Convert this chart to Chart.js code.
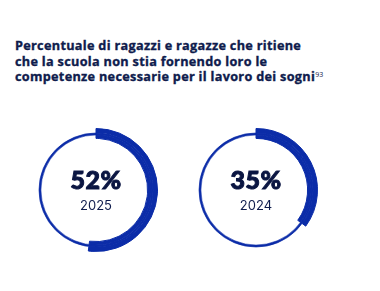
<!DOCTYPE html>
<html>
<head>
<meta charset="utf-8">
<script src="https://cdn.jsdelivr.net/npm/chart.js@4"></script>
<style>
	body { margin: 0; background: #ffffff; width: 380px; height: 291px; overflow: hidden; position: relative; font-family: Inter, sans-serif; color: #0f1c4d; }
	.title { position: absolute; left: 15px; top: 38px; font-family: 'Open Sans', sans-serif; font-size: 12.7px; font-weight: 700; line-height: 15.5px; letter-spacing: 0.3px; -webkit-text-stroke: 0.35px #0f1c4d; }
	.title sup { font-size: 7px; font-weight: 500; vertical-align: 4px; line-height: 0; letter-spacing: 0; -webkit-text-stroke: 0; }
	.ring { position: absolute; width: 124px; height: 124px; }
	.value { position: absolute; width: 124px; text-align: center; font-family: Lato, sans-serif; font-size: 25px; line-height: 24px; font-weight: 900; -webkit-text-stroke: 1px #0b1642; color: #0b1642; letter-spacing: 0.5px; }
	.year { position: absolute; width: 124px; text-align: center; font-size: 13px; line-height: 13px; font-weight: 400; }
</style>
</head>
<body>
	<div class="title">Percentuale di ragazzi e ragazze che ritiene<br>che la scuola non stia fornendo loro le<br>competenze necessarie per il lavoro dei sogni<sup>93</sup></div>

	<div class="ring" style="left: 34px; top: 128px;"><canvas id="ring0"></canvas></div>
	<div class="ring" style="left: 194px; top: 128px;"><canvas id="ring1"></canvas></div>

	<div class="value" id="value0" style="left: 34px; top: 167px;"></div>
	<div class="year" id="year0" style="left: 34px; top: 199px;"></div>
	<div class="value" id="value1" style="left: 194px; top: 167px;"></div>
	<div class="year" id="year1" style="left: 194px; top: 199px;"></div>

<script>
/*
Two progress rings, one per year
*/

const years = ['2025', '2024'];
const shares = [52, 35];

const blue = '#0b2ca8';
const clear = 'rgba(0,0,0,0)';

function make_ring(id, share) {
	const rest = 100 - share;
	const ctx = document.getElementById(id).getContext('2d');

	// outer and inner parts of the thick arc, with the thin full ring between them
	// (borders in the same colour close the seams between the rings)
	const config = {
		type: 'doughnut',
		data: {
			labels: ['share', 'rest'],
			datasets: [
				{ data: [share, rest], backgroundColor: [blue, clear], borderColor: [blue, clear], borderWidth: 1, weight: 4.5 },
				{ data: [100], backgroundColor: [blue], borderColor: [blue], borderWidth: 0.6, weight: 2 },
				{ data: [share, rest], backgroundColor: [blue, clear], borderColor: [blue, clear], borderWidth: 1, weight: 3.5 }
			]
		},
		options: {
			responsive: false,
			animation: false,
			cutout: '83.9%',
			events: [],
			layout: { padding: 0 },
			plugins: {
				legend: { display: false },
				tooltip: { enabled: false }
			}
		}
	};

	return new Chart(ctx, config);
}

for (let i = 0; i < shares.length; i++) {
	const canvas = document.getElementById('ring' + i);
	canvas.width = 124;
	canvas.height = 124;
	make_ring('ring' + i, shares[i]);
	document.getElementById('value' + i).textContent = shares[i] + '%';
	document.getElementById('year' + i).textContent = years[i];
}
</script>
</body>
</html>
